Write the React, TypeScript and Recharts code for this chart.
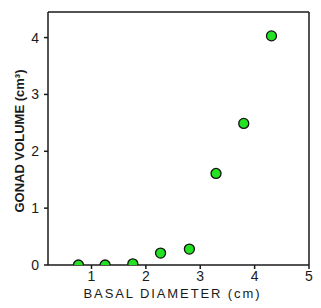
import { ScatterChart, Scatter, XAxis, YAxis, ReferenceLine, Label } from 'recharts';

const diameter = [0.76, 1.25, 1.76, 2.27, 2.8, 3.29, 3.8, 4.31];
const volume = [0, 0, 0.02, 0.21, 0.28, 1.61, 2.49, 4.03];
const xTicks = [1, 2, 3, 4, 5];
const yTicks = [0, 1, 2, 3, 4];

const points = diameter.map((d, i) => ({ x: d, y: volume[i] }));

const ink = '#1a1a1a';
const font = 'Liberation Sans, Arial, sans-serif';

const Dot = (p: any) => (
  <circle cx={p.cx} cy={p.cy} r={5} fill="#22e222" stroke="#111" strokeWidth={1.3} />
);

export default function App() {
  return (
    <div style={{ position: 'fixed', left: 0, top: 0, background: '#fff' }}>
      <ScatterChart width={321} height={308} margin={{ top: 12, right: 12, bottom: 13, left: 8 }}>
        <XAxis
          type="number"
          dataKey="x"
          domain={[0.2, 5]}
          ticks={xTicks}
          allowDataOverflow
          height={30}
          tickSize={4}
          tickMargin={2}
          stroke={ink}
          strokeWidth={1.5}
          tick={{ fontSize: 14, fill: ink, fontFamily: font }}
        >
          <Label
            content={({ viewBox }: any) => (
              <text
                x={viewBox.x + viewBox.width / 2 - 6}
                y={viewBox.y + 33}
                textAnchor="middle"
                fontSize={13}
                letterSpacing={1.9}
                fontFamily={font}
                fill={ink}
              >
                BASAL DIAMETER (cm)
              </text>
            )}
          />
        </XAxis>
        <YAxis
          type="number"
          dataKey="y"
          domain={[0, 4.45]}
          ticks={yTicks}
          allowDataOverflow
          width={40}
          tickSize={4}
          tickMargin={5}
          stroke={ink}
          strokeWidth={1.5}
          tick={{ fontSize: 14, fill: ink, fontFamily: font }}
        >
          <Label
            content={() => {
              const cx = 19;
              const cy = 141;
              return (
                <text
                  x={cx}
                  y={cy}
                  transform={`rotate(-90 ${cx} ${cy})`}
                  textAnchor="middle"
                  dominantBaseline="central"
                  fontSize={13}
                  fontWeight="bold"
                  fontFamily={font}
                  fill={ink}
                >
                  GONAD VOLUME (cm³)
                </text>
              );
            }}
          />
        </YAxis>
        <ReferenceLine y={4.45} stroke={ink} strokeWidth={1.5} />
        <ReferenceLine x={5} stroke={ink} strokeWidth={1.5} />
        <Scatter data={points} shape={Dot} isAnimationActive={false} />
      </ScatterChart>
    </div>
  );
}
